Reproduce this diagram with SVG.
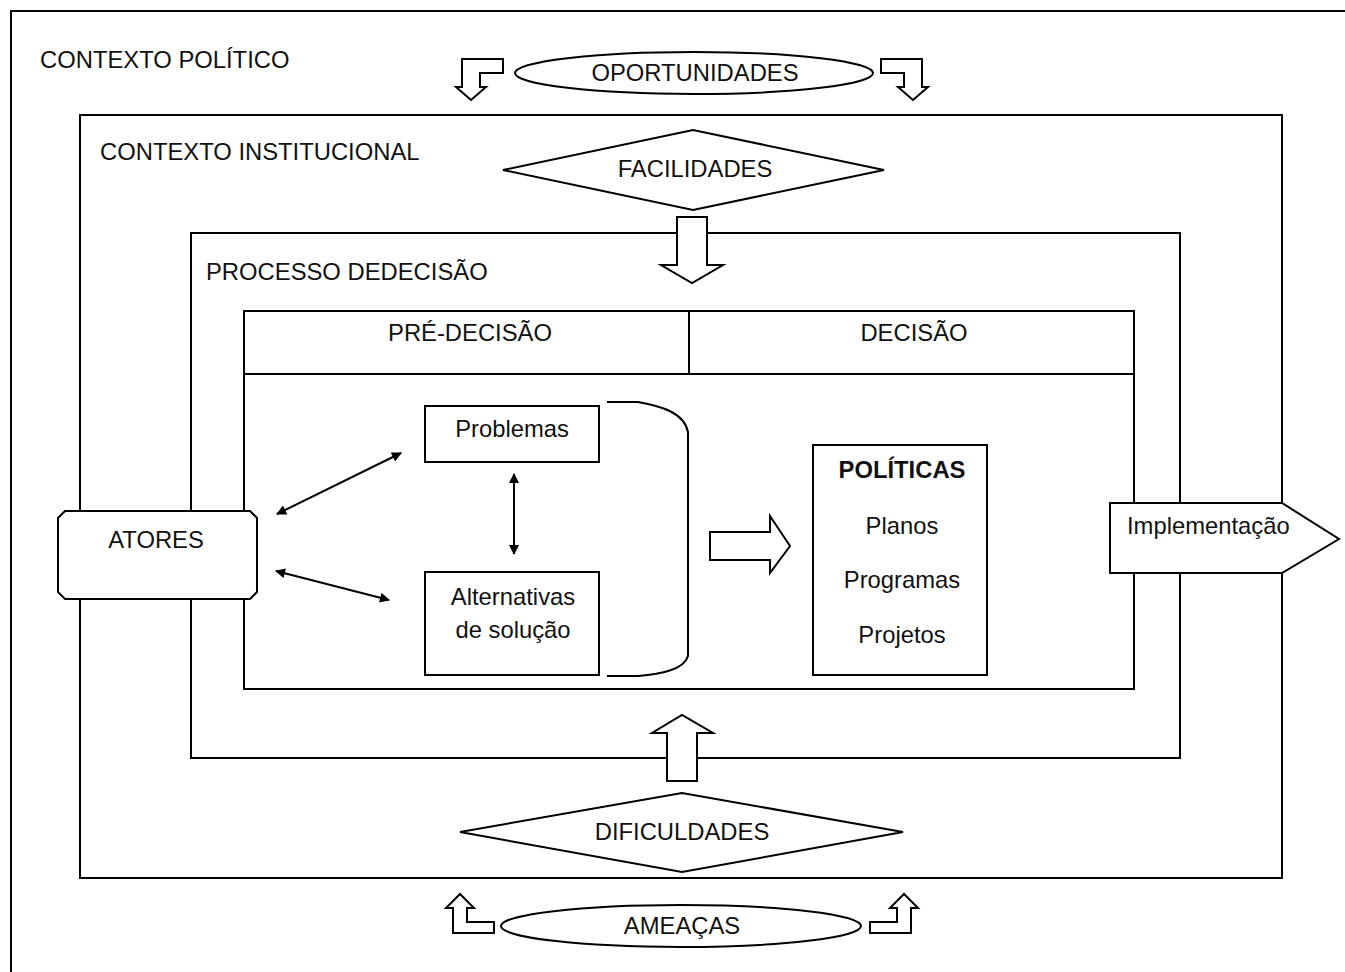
<svg xmlns="http://www.w3.org/2000/svg" width="1345" height="972" viewBox="0 0 1345 972">
<style>
.s{fill:#fff;stroke:#000;stroke-width:2}
.n{fill:none;stroke:#000;stroke-width:2}
.t{font-family:"Liberation Sans",Arial,sans-serif;font-size:23.8px;fill:#111}
.c{text-anchor:middle}
.b{font-weight:bold}
</style>
<defs>
<marker id="ah" viewBox="0 0 10 10" refX="9" refY="5" markerWidth="11" markerHeight="10" markerUnits="userSpaceOnUse" orient="auto-start-reverse">
<path d="M0,0 L10,5 L0,10 z" fill="#000"/>
</marker>
</defs>
<rect width="1345" height="972" fill="#fff"/>
<g id="contexto-politico">
<path class="n" d="M11,980 L11,11 L1350,11" stroke-width="2.5"/>
<text class="t" x="40" y="68">CONTEXTO POLÍTICO</text>
</g>
<g id="contexto-institucional">
<rect class="s" x="80" y="115" width="1202" height="763"/>
<text class="t" x="100" y="160">CONTEXTO INSTITUCIONAL</text>
</g>
<g id="processo">
<rect class="s" x="191" y="233" width="989" height="525"/>
<text class="t" x="206" y="280">PROCESSO DEDECISÃO</text>
</g>
<g id="tabela">
<rect class="s" x="244" y="311" width="890" height="378"/>
<line class="n" x1="244" y1="374" x2="1134" y2="374"/>
<line class="n" x1="689" y1="311" x2="689" y2="374"/>
<text class="t c" x="470" y="341">PRÉ-DECISÃO</text>
<text class="t c" x="914" y="341">DECISÃO</text>
</g>
<g id="oportunidades">
<ellipse class="s" cx="694" cy="73" rx="179" ry="21"/>
<text class="t c" x="695" y="81">OPORTUNIDADES</text>
<polygon class="s" points="462,59 503,59 503,73 480,73 480,87 486,87 471,100 456,87 462,87"/>
<polygon class="s" points="922,59 881,59 881,73 904,73 904,87 898,87 913,100 928,87 922,87"/>
</g>
<g id="facilidades">
<polygon class="s" points="503,170 693,130 884,170 693,210"/>
<text class="t c" x="695" y="177">FACILIDADES</text>
</g>
<g id="seta-facilidades">
<polygon class="s" points="677,217 707,217 707,265 723,265 692,283 661,265 677,265"/>
</g>
<g id="dificuldades">
<polygon class="s" points="460,832 682,793 903,832 682,872"/>
<text class="t c" x="682" y="840">DIFICULDADES</text>
</g>
<g id="seta-dificuldades">
<polygon class="s" points="667,781 697,781 697,733 713,733 682,715 652,733 667,733"/>
</g>
<g id="ameacas">
<ellipse class="s" cx="681" cy="926" rx="180" ry="21"/>
<text class="t c" x="682" y="934">AMEAÇAS</text>
<polygon class="s" points="453,908 446,908 460,894 474,908 467,908 467,922 494,922 494,933 453,933"/>
<polygon class="s" points="911,908 918,908 904,894 890,908 897,908 897,922 870,922 870,933 911,933"/>
</g>
<g id="atores">
<path class="s" d="M65,511 L250,511 L257,518 L257,592 L250,599 L65,599 L58,592 L58,518 Z"/>
<text class="t c" x="156" y="548">ATORES</text>
</g>
<g id="problemas">
<rect class="s" x="425" y="406" width="174" height="56"/>
<text class="t c" x="512" y="437">Problemas</text>
</g>
<g id="alternativas">
<rect class="s" x="425" y="572" width="174" height="103"/>
<text class="t c" x="513" y="605">Alternativas</text>
<text class="t c" x="513" y="638">de solução</text>
</g>
<g id="chave">
<path class="n" d="M607,402 L638,402 C660,406 684,412 688,432 L688,656 C684,670 660,674 638,676 L607,676"/>
</g>
<g id="seta-politicas">
<polygon class="s" points="710,532 770,532 770,516 790,546 770,573 770,560 710,560"/>
</g>
<g id="politicas">
<rect class="s" x="813" y="445" width="174" height="230"/>
<text class="t c b" x="902" y="478">POLÍTICAS</text>
<text class="t c" x="902" y="534">Planos</text>
<text class="t c" x="902" y="588">Programas</text>
<text class="t c" x="902" y="643">Projetos</text>
</g>
<g id="implementacao">
<polygon class="s" points="1110,503 1282,503 1339,539 1282,573 1110,573"/>
<text class="t" x="1127" y="534">Implementação</text>
</g>
<g id="conectores">
<line class="n" x1="277" y1="514" x2="401" y2="453" marker-start="url(#ah)" marker-end="url(#ah)"/>
<line class="n" x1="276" y1="571" x2="389" y2="600" marker-start="url(#ah)" marker-end="url(#ah)"/>
<line class="n" x1="514" y1="474" x2="514" y2="554" marker-start="url(#ah)" marker-end="url(#ah)"/>
</g>
</svg>
